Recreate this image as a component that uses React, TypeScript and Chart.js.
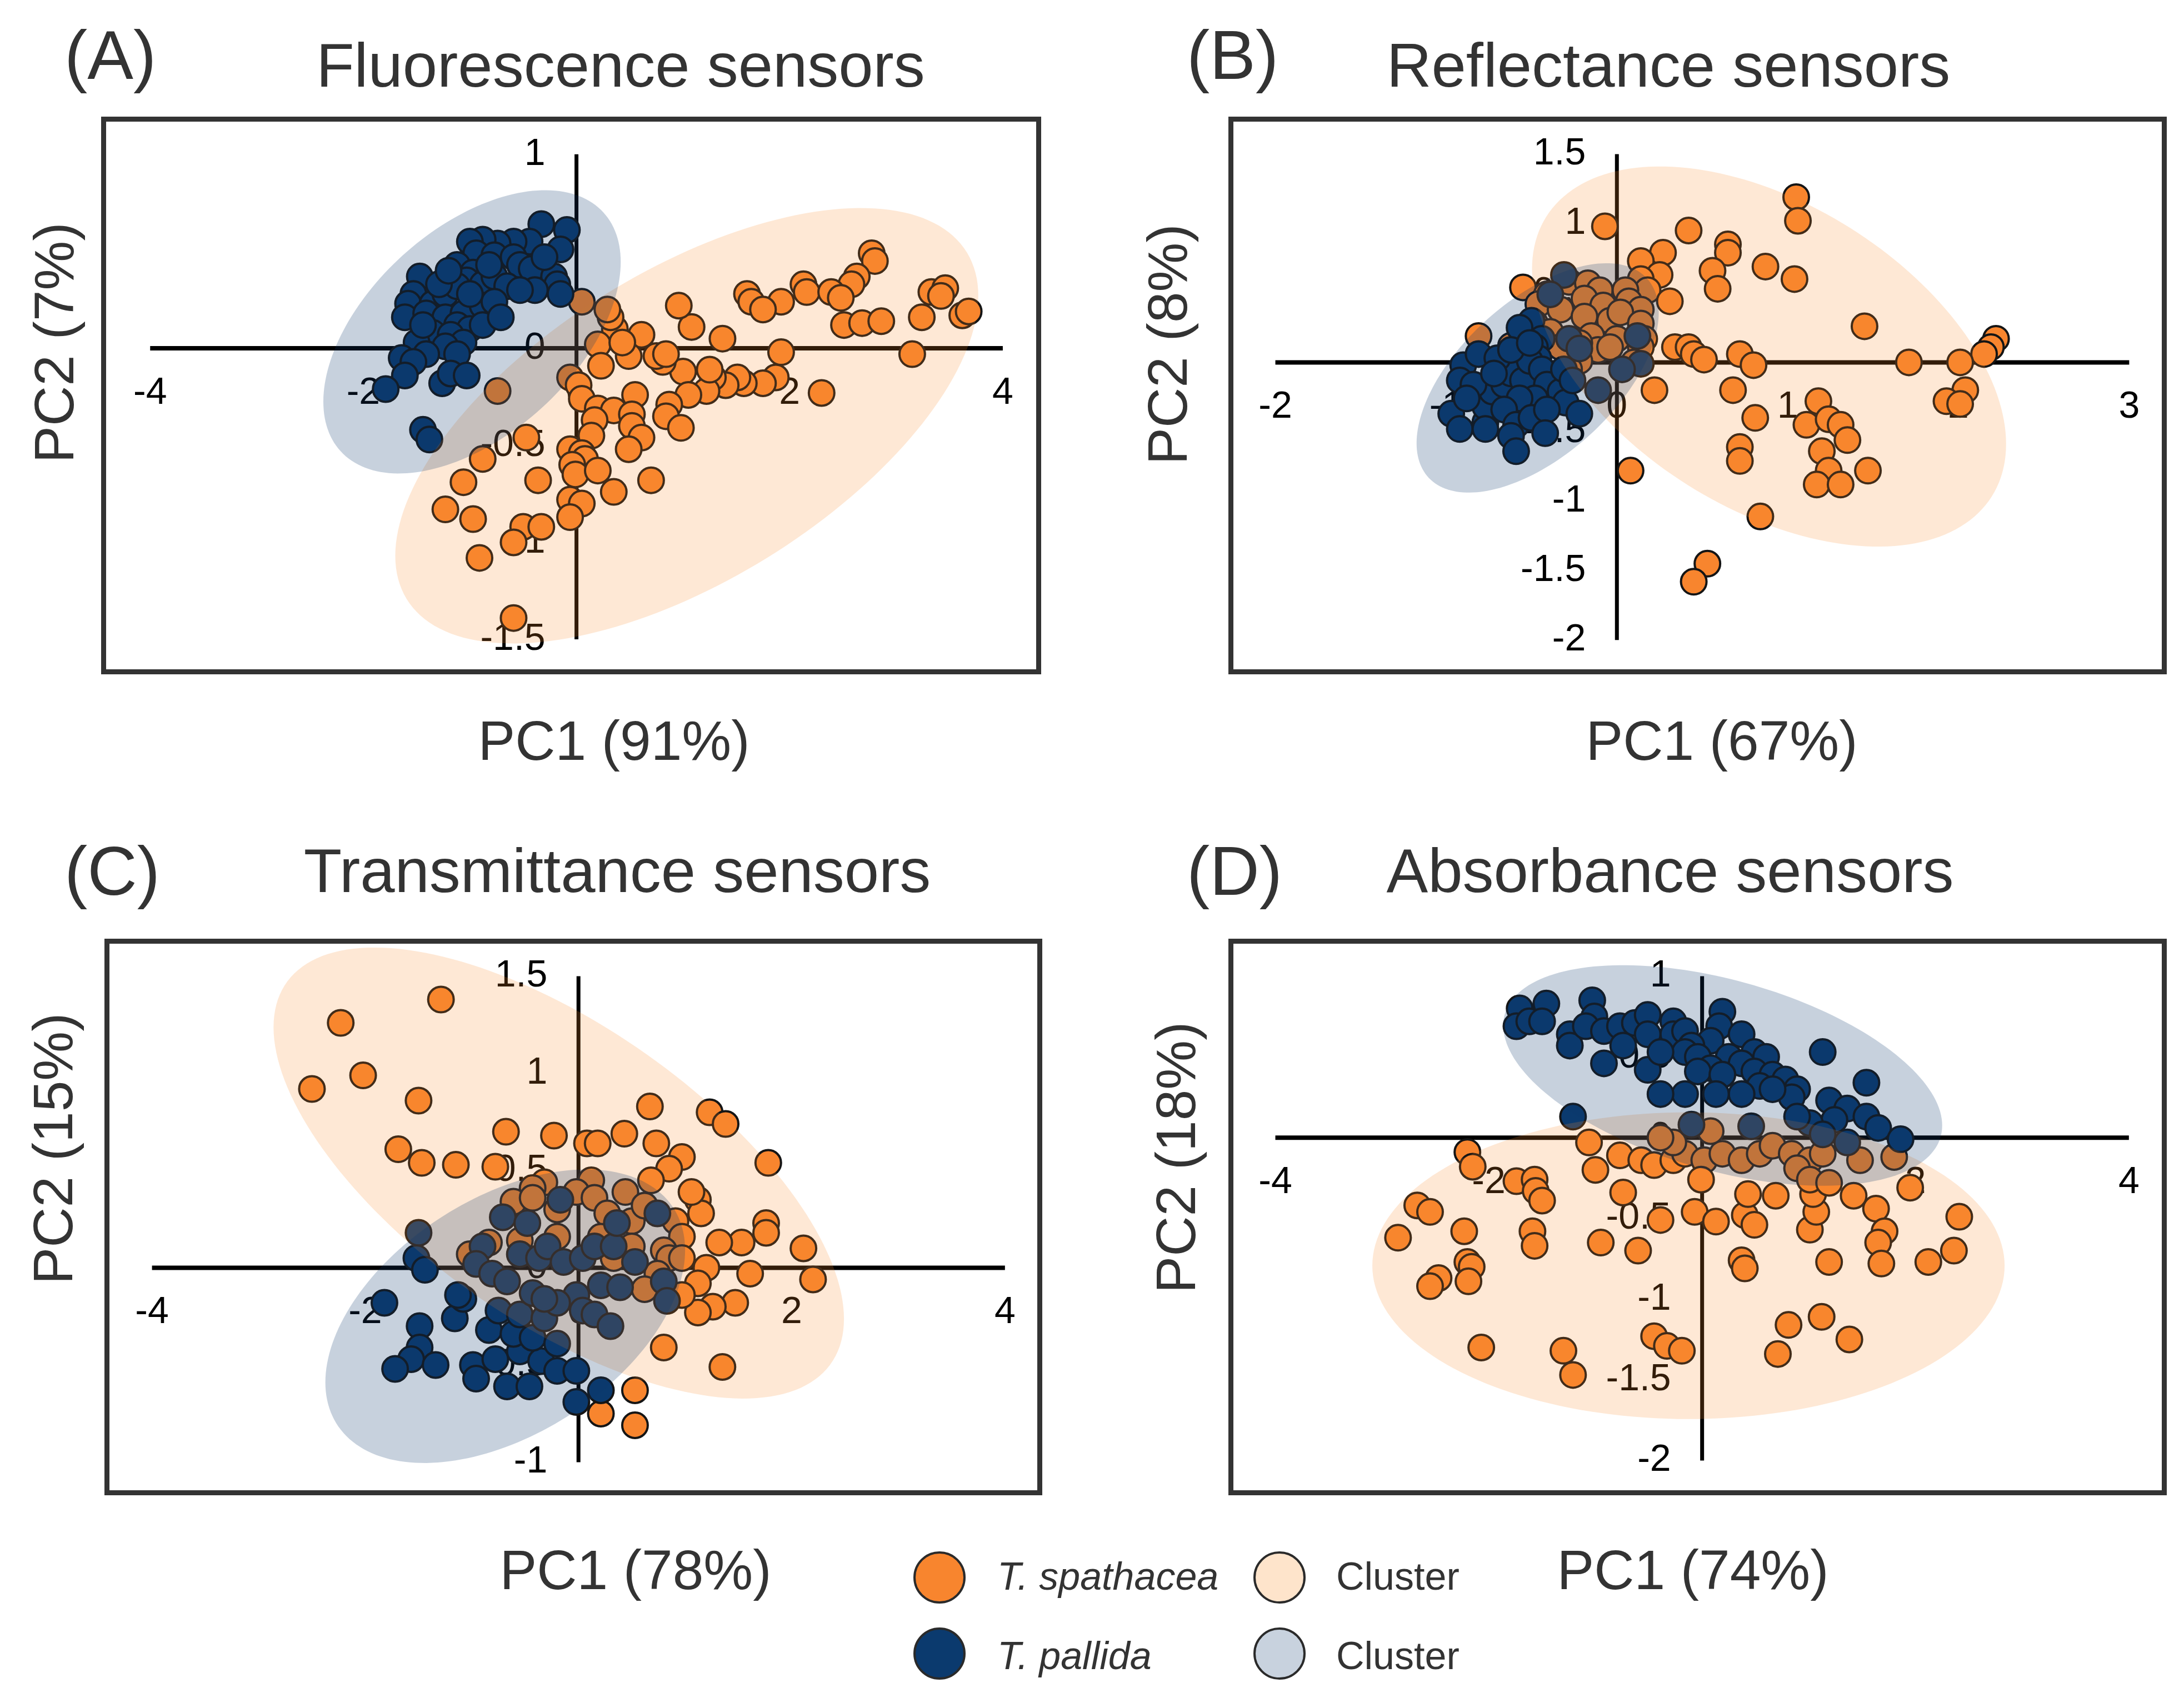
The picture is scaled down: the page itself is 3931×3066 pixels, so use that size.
import React, { useEffect, useRef } from "react";
import { Chart, registerables } from "chart.js";

Chart.register(...registerables);

const FONT = "'Liberation Sans', Arial, Helvetica, sans-serif";
const TICK_FONT = "'Liberation Sans Narrow', 'Arial Narrow', 'Liberation Sans', Arial, sans-serif";
const ORANGE = "#F8852E";
const NAVY = "#0B3A6E";
const ORANGE_FILL = "rgba(249,138,43,0.20)";
const NAVY_FILL = "rgba(11,58,110,0.23)";

// ---------- tick labels ----------
const A_X_TICKS = [-4, -2, 0, 2, 4];
const A_Y_TICKS = [-1.5, -1, -0.5, 0, 0.5, 1];
const B_X_TICKS = [-2, -1, 0, 1, 2, 3];
const B_Y_TICKS = [-2, -1.5, -1, -0.5, 0, 0.5, 1, 1.5];
const C_X_TICKS = [-4, -2, 0, 2, 4];
const C_Y_TICKS = [-1, -0.5, 0, 0.5, 1, 1.5];
const D_X_TICKS = [-4, -2, 0, 2, 4];
const D_Y_TICKS = [-2, -1.5, -1, -0.5, 0, 0.5, 1];

// ---------- visible axis ranges (frame edges) ----------
const A_X_RANGE = [-4.46, 4.36];
const A_Y_RANGE = [-1.68, 1.194];
const B_X_RANGE = [-2.275, 3.22];
const B_Y_RANGE = [-2.247, 1.77];
const C_X_RANGE = [-4.446, 4.35];
const C_Y_RANGE = [-1.17, 1.693];
const D_X_RANGE = [-4.44, 4.355];
const D_Y_RANGE = [-2.215, 1.232];

// ---------- (A) Fluorescence ----------
const A_SPATHACEA = [
  [2.77, 0.49], [2.8, 0.45], [2.63, 0.37], [2.58, 0.33], [2.13, 0.33], [2.16, 0.29], [1.92, 0.24], [1.6, 0.28],
  [1.64, 0.24], [1.75, 0.2], [2.39, 0.29], [2.48, 0.26], [2.51, 0.12], [2.68, 0.13], [2.86, 0.14], [3.33, 0.29],
  [3.46, 0.31], [3.42, 0.27], [3.24, 0.16], [3.62, 0.17], [3.68, 0.19], [3.15, -0.03], [2.3, -0.23], [1.92, -0.02],
  [1.87, -0.15], [1.75, -0.18], [1.57, -0.18], [1.51, -0.15], [1.4, -0.19], [1.28, -0.15], [1.22, -0.22], [1.25, -0.11],
  [1.37, 0.05], [1.08, 0.11], [0.96, 0.22], [1.0, -0.12], [1.05, -0.24], [0.87, -0.29], [0.84, -0.35], [0.98, -0.41],
  [0.81, -0.07], [0.75, -0.04], [0.84, -0.03], [0.61, 0.07], [0.49, -0.04], [0.36, 0.1], [0.32, 0.16], [0.29, 0.2],
  [0.2, 0.02], [0.23, -0.09], [0.05, 0.24], [-0.06, -0.15], [0.02, -0.19], [0.05, -0.26], [0.2, -0.31], [0.35, -0.32],
  [0.55, -0.24], [0.52, -0.34], [0.52, -0.4], [0.61, -0.46], [0.49, -0.52], [0.17, -0.37], [0.14, -0.45], [-0.06, -0.52],
  [0.05, -0.54], [0.08, -0.57], [-0.04, -0.6], [-0.01, -0.65], [0.2, -0.63], [-0.06, -0.78], [0.05, -0.8], [-0.06, -0.87],
  [0.35, -0.74], [0.7, -0.68], [-0.36, -0.68], [-0.47, -0.46], [-0.74, -0.22], [-0.88, -0.57], [-1.06, -0.69], [-1.23, -0.83],
  [-0.97, -0.88], [-0.5, -0.92], [-0.33, -0.92], [-0.59, -1.0], [-0.91, -1.08], [-0.59, -1.39], [0.43, 0.03],
];
const A_PALLIDA = [
  [-0.33, 0.64], [-0.09, 0.61], [-0.15, 0.51], [-0.44, 0.55], [-0.59, 0.55], [-0.74, 0.54], [-0.88, 0.56], [-1.0, 0.55],
  [-0.94, 0.49], [-0.77, 0.48], [-0.59, 0.47], [-0.53, 0.43], [-0.42, 0.41], [-0.21, 0.37], [-0.18, 0.33], [-0.39, 0.3],
  [-0.15, 0.28], [-1.12, 0.43], [-0.97, 0.39], [-1.03, 0.35], [-0.88, 0.33], [-0.77, 0.37], [-0.65, 0.32], [-0.53, 0.3],
  [-1.47, 0.37], [-1.53, 0.28], [-1.58, 0.23], [-1.35, 0.23], [-1.23, 0.28], [-1.12, 0.32], [-1.61, 0.16], [-1.41, 0.18],
  [-1.23, 0.16], [-1.06, 0.18], [-0.88, 0.22], [-0.77, 0.24], [-1.12, 0.12], [-1.0, 0.1], [-0.88, 0.12], [-1.35, 0.08],
  [-1.18, 0.07], [-1.06, 0.03], [-1.23, 0.01], [-1.5, 0.03], [-1.41, -0.03], [-1.12, -0.03], [-1.64, -0.05], [-1.53, -0.07],
  [-1.61, -0.14], [-1.79, -0.21], [-1.26, -0.18], [-1.18, -0.13], [-1.03, -0.14], [-1.44, -0.42], [-1.38, -0.47], [-1.29, 0.33],
  [-0.82, 0.43], [-0.3, 0.47], [-1.0, 0.28], [-1.2, 0.4], [-1.44, 0.12], [-0.71, 0.16],
];
// cluster ellipses: [centre x, centre y, half width, half height, y-offset at max x]
const A_CLUSTER_SPATHACEA = [1.035, -0.399, 2.735, 1.122, 0.67];
const A_CLUSTER_PALLIDA = [-0.98, 0.085, 1.395, 0.73, 0.36];

// ---------- (B) Reflectance ----------
const B_SPATHACEA = [
  [1.05, 1.19], [1.06, 1.02], [-0.07, 0.98], [0.42, 0.95], [0.65, 0.85], [0.65, 0.79], [0.27, 0.79], [0.14, 0.73],
  [0.87, 0.69], [1.04, 0.6], [0.25, 0.63], [0.14, 0.6], [0.56, 0.66], [0.59, 0.53], [0.18, 0.52], [0.31, 0.44],
  [1.45, 0.26], [2.22, 0.17], [2.19, 0.11], [2.15, 0.06], [1.71, 0.0], [2.01, 0.0], [2.04, -0.2], [1.93, -0.28],
  [2.01, -0.3], [0.34, 0.11], [0.42, 0.11], [0.45, 0.06], [0.51, 0.02], [0.72, 0.06], [0.8, -0.02], [0.22, -0.2],
  [0.68, -0.2], [0.81, -0.4], [1.18, -0.28], [1.11, -0.45], [1.24, -0.41], [1.31, -0.45], [1.35, -0.56], [1.2, -0.64],
  [1.24, -0.78], [1.17, -0.88], [1.31, -0.88], [1.47, -0.78], [0.72, -0.61], [0.72, -0.71], [0.08, -0.78], [0.84, -1.11],
  [0.53, -1.45], [0.45, -1.58], [-0.55, 0.54], [-0.41, 0.49], [-0.46, 0.42], [-0.28, 0.58], [-0.17, 0.57], [-0.1, 0.52],
  [-0.19, 0.46], [-0.08, 0.41], [0.05, 0.52], [0.07, 0.44], [0.14, 0.38], [-0.33, 0.38], [-0.19, 0.33], [-0.04, 0.3],
  [0.02, 0.36], [0.14, 0.28], [0.16, 0.17], [0.14, 0.11], [0.0, 0.17], [-0.15, 0.19], [-0.11, 0.09], [-0.22, 0.01],
  [-0.28, -0.05], [-0.81, 0.19], [-0.48, 0.28], [-0.39, 0.22], [-0.55, 0.22], [-0.33, 0.11], [-0.22, 0.14], [-0.04, 0.11],
  [-0.62, 0.12], [0.1, 0.0],
];
const B_PALLIDA = [
  [-0.31, 0.63], [-0.39, 0.49], [-0.5, 0.3], [-0.57, 0.25], [-0.44, 0.17], [-0.48, 0.11], [-0.46, 0.03], [-0.28, 0.17],
  [-0.22, 0.1], [0.12, 0.19], [0.14, -0.01], [0.03, -0.05], [-0.11, -0.2], [-0.9, -0.02], [-0.92, -0.13], [-0.97, -0.37],
  [-0.92, -0.48], [-0.77, -0.43], [-0.77, -0.32], [-0.73, -0.21], [-0.66, -0.16], [-0.62, -0.08], [-0.55, -0.13], [-0.51, 0.01],
  [-0.44, -0.05], [-0.41, -0.16], [-0.33, -0.21], [-0.3, -0.29], [-0.22, -0.37], [-0.48, -0.26], [-0.57, -0.26], [-0.66, -0.34],
  [-0.59, -0.45], [-0.5, -0.4], [-0.41, -0.34], [-0.62, -0.53], [-0.59, -0.64], [-0.81, 0.06], [-0.7, 0.03], [-0.62, 0.09],
  [-0.51, 0.14], [-0.84, -0.16], [-0.88, -0.26], [-0.72, -0.08], [-0.31, -0.05], [-0.26, -0.13], [-0.77, -0.48], [-0.42, -0.51],
];
const B_CLUSTER_SPATHACEA = [0.891, 0.042, 1.388, 1.369, -0.63];
const B_CLUSTER_PALLIDA = [-0.464, -0.112, 0.709, 0.826, 0.47];

// ---------- (C) Transmittance ----------
const C_SPATHACEA = [
  [-1.29, 1.38], [-2.23, 1.26], [-2.02, 0.99], [-2.5, 0.92], [-1.5, 0.86], [-0.68, 0.7], [-0.23, 0.68], [0.08, 0.64],
  [0.18, 0.64], [0.43, 0.69], [0.67, 0.83], [0.73, 0.64], [1.23, 0.8], [1.38, 0.74], [0.97, 0.57], [0.85, 0.51],
  [1.78, 0.54], [-1.69, 0.61], [-1.47, 0.54], [-1.15, 0.53], [-0.78, 0.52], [-0.32, 0.44], [0.12, 0.45], [0.68, 0.45],
  [1.12, 0.35], [1.76, 0.23], [1.76, 0.18], [1.53, 0.13], [1.32, 0.13], [2.11, 0.1], [2.2, -0.06], [1.61, -0.03],
  [1.2, 0.0], [1.12, -0.08], [1.47, -0.18], [1.26, -0.2], [1.12, -0.23], [1.35, -0.51], [0.8, -0.41], [0.53, -0.63],
  [0.53, -0.81], [0.21, -0.75], [-0.43, 0.41], [-0.61, 0.34], [-0.43, 0.36], [-0.2, 0.3], [-0.02, 0.39], [0.15, 0.36],
  [0.27, 0.28], [0.44, 0.39], [0.5, 0.24], [0.62, 0.32], [0.91, 0.24], [0.97, 0.16], [0.8, 0.09], [0.5, 0.11],
  [0.33, 0.05], [0.21, 0.16], [-0.2, 0.16], [-0.55, 0.14], [-0.84, 0.13], [-1.02, 0.07], [0.85, 0.05], [0.97, 0.05],
  [0.74, -0.03], [0.62, -0.11], [0.97, -0.14], [1.15, 0.28], [1.06, 0.39],
];
const C_PALLIDA = [
  [-1.5, 0.18], [-1.52, 0.05], [-1.44, -0.01], [-1.82, -0.18], [-1.49, -0.3], [-1.49, -0.41], [-1.57, -0.47], [-1.72, -0.52],
  [-1.34, -0.5], [-1.16, -0.26], [-1.08, -0.16], [-0.99, -0.5], [-0.96, -0.57], [-0.67, -0.61], [-0.46, -0.61], [-0.78, -0.47],
  [-0.55, -0.43], [-0.35, -0.48], [-0.2, -0.53], [-0.02, -0.53], [-0.02, -0.69], [0.21, -0.63], [-0.84, -0.32], [-0.61, -0.34],
  [-0.43, -0.36], [-0.2, -0.39], [-0.75, -0.22], [-0.55, -0.24], [-0.32, -0.26], [-0.17, 0.35], [-0.71, 0.26], [-0.48, 0.23],
  [-0.9, 0.11], [-0.96, 0.02], [-0.81, -0.03], [-0.55, 0.07], [-0.37, 0.05], [-0.29, 0.11], [-0.14, 0.03], [0.04, 0.05],
  [0.15, 0.11], [0.33, 0.11], [0.36, 0.23], [0.74, 0.28], [0.8, -0.07], [0.83, -0.17], [0.53, 0.03], [0.21, -0.09],
  [0.39, -0.1], [-0.02, -0.14], [0.04, -0.22], [-0.2, -0.18], [-0.43, -0.13], [0.15, -0.24], [0.3, -0.3], [-0.32, -0.16],
  [-0.67, -0.07], [-1.13, -0.14],
];
const C_CLUSTER_SPATHACEA = [-0.185, 0.4875, 2.675, 1.16, -0.75];
const C_CLUSTER_PALLIDA = [-0.687, -0.249, 1.687, 0.755, 0.34];

// ---------- (D) Absorbance ----------
const D_SPATHACEA = [
  [-2.2, -0.09], [-2.15, -0.18], [-1.74, -0.27], [-1.57, -0.26], [-1.56, -0.33], [-1.5, -0.39], [-2.67, -0.42], [-2.55, -0.46],
  [-2.85, -0.62], [-2.23, -0.58], [-1.59, -0.58], [-1.57, -0.67], [-2.2, -0.77], [-2.16, -0.8], [-2.19, -0.89], [-2.47, -0.87],
  [-2.55, -0.92], [-2.07, -1.3], [-1.3, -1.32], [-1.21, -1.47], [-0.45, -1.23], [-0.33, -1.29], [-0.19, -1.32], [-0.95, -0.65],
  [-0.6, -0.7], [-0.39, -0.51], [-0.74, -0.34], [-1.0, -0.2], [-1.06, -0.03], [-0.77, -0.11], [-0.57, -0.14], [-0.07, -0.46],
  [0.13, -0.52], [0.4, -0.48], [0.49, -0.54], [0.43, -0.35], [0.69, -0.36], [0.37, -0.76], [0.4, -0.81], [1.19, -0.77],
  [1.01, -0.57], [1.07, -0.46], [1.04, -0.35], [1.42, -0.36], [1.63, -0.44], [1.71, -0.58], [1.65, -0.65], [1.68, -0.78],
  [2.12, -0.77], [2.36, -0.7], [2.41, -0.49], [1.95, -0.31], [1.8, -0.12], [0.81, -1.16], [1.12, -1.11], [1.38, -1.25],
  [0.71, -1.34], [-0.45, -0.17], [-0.27, -0.14], [-0.16, -0.1], [0.02, -0.14], [0.19, -0.1], [0.37, -0.14], [0.54, -0.1],
  [0.66, -0.05], [0.84, -0.1], [1.01, -0.14], [0.89, -0.19], [1.01, -0.26], [1.13, -0.1], [1.48, -0.14], [-0.01, -0.26],
  [-0.27, -0.03], [-0.39, 0.0], [0.08, 0.04], [1.19, -0.28],
];
const D_PALLIDA = [
  [-1.71, 0.8], [-1.74, 0.69], [-1.62, 0.72], [-1.46, 0.83], [-1.5, 0.72], [-1.03, 0.85], [-1.01, 0.75], [-1.24, 0.64],
  [-1.24, 0.57], [-1.09, 0.69], [-0.92, 0.66], [-0.77, 0.69], [-0.63, 0.71], [-0.51, 0.76], [-0.27, 0.72], [-0.51, 0.64],
  [-0.27, 0.64], [-0.16, 0.66], [-0.92, 0.46], [-0.51, 0.42], [0.19, 0.78], [0.16, 0.69], [0.37, 0.64], [0.08, 0.6],
  [-0.1, 0.57], [-0.16, 0.53], [-0.04, 0.5], [0.25, 0.5], [0.49, 0.53], [0.6, 0.5], [0.37, 0.46], [0.08, 0.43],
  [-0.04, 0.41], [0.19, 0.39], [0.49, 0.41], [0.66, 0.39], [0.54, 0.32], [0.37, 0.27], [0.13, 0.27], [-0.16, 0.27],
  [-0.39, 0.27], [0.78, 0.36], [0.89, 0.3], [0.84, 0.25], [1.13, 0.53], [1.54, 0.34], [1.19, 0.23], [1.36, 0.18],
  [1.24, 0.11], [1.54, 0.13], [1.65, 0.06], [1.86, -0.01], [1.01, 0.09], [0.89, 0.13], [-1.21, 0.13], [-0.1, 0.08],
  [0.46, 0.07], [1.13, 0.02], [1.36, -0.03], [-0.39, 0.53], [-0.74, 0.57], [0.66, 0.3],
];
const D_CLUSTER_SPATHACEA = [-0.128, -0.793, 2.963, 0.95, 0.0];
const D_CLUSTER_PALLIDA = [0.193, 0.385, 2.057, 0.683, -0.31];

type Panel = {
  left: number; top: number; width: number; height: number;
  xRange: number[]; yRange: number[]; xTicks: number[]; yTicks: number[];
  spathacea: number[][]; pallida: number[][];
  clusterSp: number[]; clusterPa: number[];
};

const PANELS: Panel[] = [
  { left: 182, top: 210, width: 1692, height: 1004, xRange: A_X_RANGE, yRange: A_Y_RANGE, xTicks: A_X_TICKS, yTicks: A_Y_TICKS,
    spathacea: A_SPATHACEA, pallida: A_PALLIDA, clusterSp: A_CLUSTER_SPATHACEA, clusterPa: A_CLUSTER_PALLIDA },
  { left: 2211, top: 210, width: 1689, height: 1004, xRange: B_X_RANGE, yRange: B_Y_RANGE, xTicks: B_X_TICKS, yTicks: B_Y_TICKS,
    spathacea: B_SPATHACEA, pallida: B_PALLIDA, clusterSp: B_CLUSTER_SPATHACEA, clusterPa: B_CLUSTER_PALLIDA },
  { left: 188, top: 1690, width: 1688, height: 1002, xRange: C_X_RANGE, yRange: C_Y_RANGE, xTicks: C_X_TICKS, yTicks: C_Y_TICKS,
    spathacea: C_SPATHACEA, pallida: C_PALLIDA, clusterSp: C_CLUSTER_SPATHACEA, clusterPa: C_CLUSTER_PALLIDA },
  { left: 2211, top: 1690, width: 1689, height: 1002, xRange: D_X_RANGE, yRange: D_Y_RANGE, xTicks: D_X_TICKS, yTicks: D_Y_TICKS,
    spathacea: D_SPATHACEA, pallida: D_PALLIDA, clusterSp: D_CLUSTER_SPATHACEA, clusterPa: D_CLUSTER_PALLIDA },
];

const Y_LABEL_GAP = 56; // px between vertical axis and its tick labels
const X_LABEL_GAP = 40;

function drawCluster(chart: any, params: number[], fill: string) {
  const [cx, cy, hw, hh, k] = params;
  const l22 = Math.sqrt(Math.max(hh * hh - k * k, 0));
  const xs = chart.scales.x;
  const ys = chart.scales.y;
  const ctx = chart.ctx;
  ctx.beginPath();
  const n = 180;
  for (let i = 0; i <= n; i++) {
    const t = (i / n) * Math.PI * 2;
    const px = xs.getPixelForValue(cx + hw * Math.cos(t));
    const py = ys.getPixelForValue(cy + k * Math.cos(t) + l22 * Math.sin(t));
    if (i === 0) ctx.moveTo(px, py);
    else ctx.lineTo(px, py);
  }
  ctx.closePath();
  ctx.fillStyle = fill;
  ctx.fill();
}

const noPadding = (s: any) => {
  s.paddingTop = 0;
  s.paddingBottom = 0;
  s.paddingLeft = 0;
  s.paddingRight = 0;
};

function PanelChart({ p }: { p: Panel }) {
  const ref = useRef<HTMLCanvasElement | null>(null);
  useEffect(() => {
    const canvas = ref.current;
    if (!canvas) return;
    const decor = {
      id: "pcaDecor",
      beforeDatasetsDraw(chart: any) {
        const ctx = chart.ctx;
        const xs = chart.scales.x;
        const ys = chart.scales.y;
        ctx.save();
        ctx.strokeStyle = "#000";
        ctx.lineWidth = 8;
        const y0 = ys.getPixelForValue(0);
        ctx.beginPath();
        ctx.moveTo(xs.getPixelForValue(p.xTicks[0]), y0);
        ctx.lineTo(xs.getPixelForValue(p.xTicks[p.xTicks.length - 1]), y0);
        ctx.stroke();
        ctx.lineWidth = 7;
        const x0 = xs.getPixelForValue(0);
        ctx.beginPath();
        ctx.moveTo(x0, ys.getPixelForValue(p.yTicks[p.yTicks.length - 1]));
        ctx.lineTo(x0, ys.getPixelForValue(p.yTicks[0]));
        ctx.stroke();
        ctx.restore();
      },
      afterDatasetsDraw(chart: any) {
        const ctx = chart.ctx;
        const a = chart.chartArea;
        ctx.save();
        ctx.beginPath();
        ctx.rect(a.left, a.top, a.right - a.left, a.bottom - a.top);
        ctx.clip();
        drawCluster(chart, p.clusterSp, ORANGE_FILL);
        drawCluster(chart, p.clusterPa, NAVY_FILL);
        ctx.restore();
      },
      afterDraw(chart: any) {
        const ctx = chart.ctx;
        const a = chart.chartArea;
        ctx.save();
        ctx.strokeStyle = "#333333";
        ctx.lineWidth = 9;
        ctx.strokeRect(a.left + 4.5, a.top + 4.5, a.right - a.left - 9, a.bottom - a.top - 9);
        ctx.restore();
      },
    };
    const tickFont = { family: TICK_FONT, size: 68 };
    // y labels sit right-aligned at the value given here, i.e. a fixed gap left of x = 0
    const yLabelAnchor = -Y_LABEL_GAP * (p.xRange[1] - p.xRange[0]) / p.width;
    const chart = new Chart(canvas, {
      type: "scatter",
      data: {
        datasets: [
          {
            label: "T. spathacea",
            data: p.spathacea.map(([x, y]) => ({ x, y })),
            pointBackgroundColor: ORANGE,
            pointBorderColor: "#151515",
            pointBorderWidth: 4,
            pointRadius: 23,
            pointHoverRadius: 23,
            order: 2,
          },
          {
            label: "T. pallida",
            data: p.pallida.map(([x, y]) => ({ x, y })),
            pointBackgroundColor: NAVY,
            pointBorderColor: "#151515",
            pointBorderWidth: 4,
            pointRadius: 23,
            pointHoverRadius: 23,
            order: 1,
          },
        ],
      },
      options: {
        animation: false,
        responsive: false,
        devicePixelRatio: 1,
        events: [],
        layout: { padding: 0, autoPadding: false },
        plugins: { legend: { display: false }, tooltip: { enabled: false }, title: { display: false } },
        scales: {
          x: {
            type: "linear",
            min: p.xRange[0],
            max: p.xRange[1],
            position: { y: 0 } as any,
            grid: { display: false, drawTicks: false },
            border: { display: false },
            afterBuildTicks: (s: any) => {
              s.ticks = p.xTicks.map((v) => ({ value: v }));
            },
            afterFit: noPadding,
            ticks: {
              font: tickFont,
              color: "#000",
              padding: X_LABEL_GAP,
              autoSkip: false,
              maxRotation: 0,
              callback: (v: any) => String(v),
            },
          },
          y: {
            type: "linear",
            min: p.yRange[0],
            max: p.yRange[1],
            position: { x: yLabelAnchor } as any,
            grid: { display: false, drawTicks: false },
            border: { display: false },
            afterBuildTicks: (s: any) => {
              s.ticks = p.yTicks.map((v) => ({ value: v }));
            },
            afterFit: noPadding,
            ticks: {
              font: tickFont,
              color: "#000",
              padding: 0,
              autoSkip: false,
              callback: (v: any) => String(v),
            },
          },
        },
      },
      plugins: [decor],
    } as any);
    return () => chart.destroy();
  }, [p]);
  return (
    <canvas
      ref={ref}
      width={p.width}
      height={p.height}
      style={{ position: "absolute", left: p.left, top: p.top, width: p.width, height: p.height }}
    />
  );
}

function Txt({ x, y, size, align = "left", italic = false, children }: any) {
  const w = 2400;
  const left = align === "center" ? x - w / 2 : x;
  return (
    <div
      style={{
        position: "absolute",
        left,
        top: y - 0.8465 * size,
        width: align === "center" ? w : undefined,
        textAlign: align,
        fontSize: size,
        lineHeight: `${size}px`,
        fontStyle: italic ? "italic" : "normal",
        color: "#333333",
        whiteSpace: "nowrap",
      }}
    >
      {children}
    </div>
  );
}

function VTxt({ cx, cy, size, children }: any) {
  const w = 1200;
  return (
    <div
      style={{
        position: "absolute",
        left: cx - w / 2,
        top: cy - size / 2,
        width: w,
        height: size,
        textAlign: "center",
        fontSize: size,
        lineHeight: `${size}px`,
        color: "#333333",
        whiteSpace: "nowrap",
        transform: "rotate(-90deg)",
        transformOrigin: "50% 50%",
      }}
    >
      {children}
    </div>
  );
}

function Dot({ cx, cy, color }: any) {
  const d = 94;
  return (
    <div
      style={{
        position: "absolute",
        left: cx - d / 2,
        top: cy - d / 2,
        width: d,
        height: d,
        borderRadius: "50%",
        background: color,
        border: "4px solid #2a2a2a",
        boxSizing: "border-box",
      }}
    />
  );
}

export default function App() {
  return (
    <div
      style={{
        position: "absolute",
        left: 0,
        top: 0,
        width: 3931,
        height: 3066,
        background: "#ffffff",
        overflow: "hidden",
        fontFamily: FONT,
      }}
    >
      {PANELS.map((p, i) => (
        <PanelChart key={i} p={p} />
      ))}

      <Txt x={116} y={142} size={124}>(A)</Txt>
      <Txt x={1117} y={157} size={112} align="center">Fluorescence sensors</Txt>
      <Txt x={2136} y={142} size={124}>(B)</Txt>
      <Txt x={3003} y={157} size={112} align="center">Reflectance sensors</Txt>
      <Txt x={116} y={1611} size={124}>(C)</Txt>
      <Txt x={1111} y={1607} size={112} align="center">Transmittance sensors</Txt>
      <Txt x={2136} y={1611} size={124}>(D)</Txt>
      <Txt x={3006} y={1607} size={112} align="center">Absorbance sensors</Txt>

      <Txt x={1105} y={1368} size={100} align="center">PC1 (91%)</Txt>
      <Txt x={3099} y={1368} size={100} align="center">PC1 (67%)</Txt>
      <Txt x={1144} y={2861} size={100} align="center">PC1 (78%)</Txt>
      <Txt x={3047} y={2861} size={100} align="center">PC1 (74%)</Txt>
      <VTxt cx={97} cy={617} size={100}>PC2 (7%)</VTxt>
      <VTxt cx={2101} cy={620} size={100}>PC2 (8%)</VTxt>
      <VTxt cx={95} cy={2068} size={100}>PC2 (15%)</VTxt>
      <VTxt cx={2116} cy={2084} size={100}>PC2 (18%)</VTxt>

      <Dot cx={1691} cy={2840} color={ORANGE} />
      <Txt x={1795} y={2862} size={70} italic>T. spathacea</Txt>
      <Dot cx={1691} cy={2977} color={NAVY} />
      <Txt x={1795} y={3005} size={70} italic>T. pallida</Txt>
      <Dot cx={2303} cy={2840} color="#FEE4CB" />
      <Txt x={2405} y={2862} size={70}>Cluster</Txt>
      <Dot cx={2303} cy={2977} color="#C8D2DE" />
      <Txt x={2405} y={3005} size={70}>Cluster</Txt>
    </div>
  );
}
